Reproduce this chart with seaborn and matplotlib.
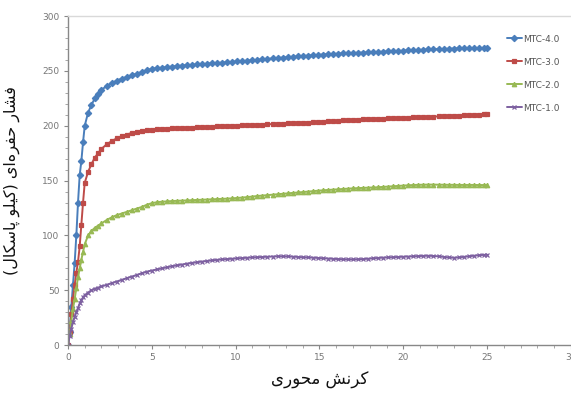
import matplotlib
matplotlib.use("Agg")
import matplotlib.pyplot as plt
import seaborn as sns
import pandas as pd

# ---------------- data ----------------
strain = [0, 0.1, 0.2, 0.3, 0.4, 0.5, 0.6, 0.7, 0.8, 0.9,
          1.0, 1.2, 1.4, 1.6, 1.8, 2.0, 2.3, 2.6, 2.9, 3.2,
          3.5, 3.8, 4.1, 4.4, 4.7, 5.0, 5.3, 5.6, 5.9, 6.2,
          6.5, 6.8, 7.1, 7.4, 7.7, 8.0, 8.3, 8.6, 8.9, 9.2,
          9.5, 9.8, 10.1, 10.4, 10.7, 11.0, 11.3, 11.6, 11.9, 12.2,
          12.5, 12.8, 13.1, 13.4, 13.7, 14.0, 14.3, 14.6, 14.9, 15.2,
          15.5, 15.8, 16.1, 16.4, 16.7, 17.0, 17.3, 17.6, 17.9, 18.2,
          18.5, 18.8, 19.1, 19.4, 19.7, 20.0, 20.3, 20.6, 20.9, 21.2,
          21.5, 21.8, 22.1, 22.4, 22.7, 23.0, 23.3, 23.6, 23.9, 24.2,
          24.5, 24.8, 25.0]

mtc_40 = [0, 12, 35, 55, 75, 100, 130, 155, 168, 185,
          200, 212, 219, 225, 229, 233, 236, 239, 241, 243,
          244.5, 246, 247.5, 249, 250.5, 252, 252.5, 253, 253.5, 254,
          254.5, 255, 255.3, 255.6, 256, 256.3, 256.6, 257, 257.3, 257.6,
          258, 258.3, 258.7, 259, 259.4, 259.8, 260.2, 260.6, 261, 261.4,
          261.8, 262.2, 262.6, 263, 263.3, 263.6, 264, 264.3, 264.7, 265,
          265.3, 265.5, 265.8, 266, 266.2, 266.4, 266.6, 266.8, 267, 267.2,
          267.4, 267.6, 267.8, 268, 268.2, 268.5, 268.8, 269, 269.2, 269.4,
          269.6, 269.8, 270, 270.1, 270.3, 270.5, 270.6, 270.7, 270.8, 270.9,
          271, 271, 271.2]

mtc_30 = [0, 12, 28, 42, 55, 66, 76, 90, 110, 130,
          148, 158, 165, 171, 175, 179, 183, 186, 188.5, 190.5,
          192, 193.5, 194.5, 195.5, 196, 196.5, 197, 197.2, 197.4, 197.6,
          197.8, 198, 198.2, 198.4, 198.6, 198.8, 199, 199.2, 199.4, 199.6,
          199.8, 200, 200.2, 200.4, 200.6, 200.8, 201, 201.2, 201.4, 201.6,
          201.8, 202, 202.2, 202.4, 202.6, 202.8, 203, 203.3, 203.5, 203.8,
          204, 204.3, 204.6, 205, 205.3, 205.5, 205.7, 205.9, 206, 206.2,
          206.4, 206.6, 206.8, 207, 207.2, 207.3, 207.5, 207.7, 207.8, 208,
          208.2, 208.4, 208.6, 208.8, 209, 209.2, 209.4, 209.6, 209.8, 210,
          210.2, 210.5, 211]

mtc_20 = [0, 10, 22, 33, 42, 52, 62, 70, 78, 85,
          92, 100, 104, 107, 109, 111, 114, 116.5, 118.5, 120,
          121.5, 123, 124.5, 126, 128, 129.5, 130.3, 130.8, 131.1, 131.4,
          131.6, 131.8, 132, 132.2, 132.4, 132.6, 132.8, 133, 133.2, 133.4,
          133.6, 133.9, 134.2, 134.6, 135, 135.5, 136, 136.4, 136.8, 137.2,
          137.6, 138, 138.4, 138.8, 139.2, 139.6, 140, 140.4, 140.8, 141.2,
          141.5, 141.8, 142.1, 142.4, 142.7, 143, 143.2, 143.4, 143.6, 143.8,
          144, 144.3, 144.6, 144.9, 145.2, 145.5, 145.8, 146, 146.2, 146.3,
          146.4, 146.4, 146.3, 146.3, 146.2, 146.2, 146.1, 146.1, 146.1, 146.1,
          146, 146, 146]

mtc_10 = [0, 8, 15, 21, 26, 30, 34, 38, 41, 43.5,
          45.5, 48, 50, 51.5, 52.5, 53.5, 55, 56.5, 58, 59.5,
          61, 62.5, 64, 65.5, 67, 68, 69, 70, 71, 72,
          72.8, 73.5, 74.3, 75, 75.6, 76.2, 76.8, 77.3, 77.8, 78.2,
          78.5, 78.8, 79.1, 79.4, 79.7, 80, 80.2, 80.4, 80.6, 80.8,
          81, 81, 80.9, 80.7, 80.4, 80.2, 80, 79.8, 79.5, 79.2,
          79, 78.7, 78.5, 78.3, 78.2, 78.2, 78.3, 78.5, 78.8, 79.2,
          79.5, 79.8, 80, 80.2, 80.4, 80.6, 80.8, 81, 81.2, 81.4,
          81.5, 81.3, 81, 80.5, 80, 79.7, 80, 80.5, 81, 81.5,
          82, 82.3, 82.5]

series_names = ["MTC-4.0", "MTC-3.0", "MTC-2.0", "MTC-1.0"]
series_values = [mtc_40, mtc_30, mtc_20, mtc_10]
colors = ["#4a7ebb", "#be4b48", "#98b954", "#7d60a0"]
markers = ["D", "s", "^", "x"]

y_ticks = [0, 50, 100, 150, 200, 250, 300]
x_ticks = [0, 5, 10, 15, 20, 25, 30]

y_label = "فشار حفره‌ای (کیلو پاسکال)"
x_label = "کرنش محوری"


# ------------- minimal Arabic/Persian shaping (matplotlib has no CTL) -------------
_FORMS = {
    "\u0627": ("\uFE8D", "\uFE8E"),
    "\u0631": ("\uFEAD", "\uFEAE"),
    "\u0648": ("\uFEED", "\uFEEE"),
    "\u0641": ("\uFED1", "\uFED2", "\uFED3", "\uFED4"),
    "\u0634": ("\uFEB5", "\uFEB6", "\uFEB7", "\uFEB8"),
    "\u062D": ("\uFEA1", "\uFEA2", "\uFEA3", "\uFEA4"),
    "\u0647": ("\uFEE9", "\uFEEA", "\uFEEB", "\uFEEC"),
    "\u06CC": ("\uFBFC", "\uFBFD", "\uFBFE", "\uFBFF"),
    "\u06A9": ("\uFB8E", "\uFB8F", "\uFB90", "\uFB91"),
    "\u0644": ("\uFEDD", "\uFEDE", "\uFEDF", "\uFEE0"),
    "\u067E": ("\uFB56", "\uFB57", "\uFB58", "\uFB59"),
    "\u0633": ("\uFEB1", "\uFEB2", "\uFEB3", "\uFEB4"),
    "\u0645": ("\uFEE1", "\uFEE2", "\uFEE3", "\uFEE4"),
    "\u0646": ("\uFEE5", "\uFEE6", "\uFEE7", "\uFEE8"),
}
_MIRROR = {"(": ")", ")": "("}


def shape(text):
    out = []
    n = len(text)
    for i, ch in enumerate(text):
        if ch not in _FORMS:
            if ch == "\u200c":
                continue
            out.append(_MIRROR.get(ch, ch))
            continue
        f = _FORMS[ch]
        prev = text[i - 1] if i > 0 else ""
        nxt = text[i + 1] if i + 1 < n else ""
        jp = prev in _FORMS and len(_FORMS[prev]) == 4
        jn = len(f) == 4 and nxt in _FORMS
        if jp and jn:
            out.append(f[3])
        elif jp:
            out.append(f[1])
        elif jn:
            out.append(f[2])
        else:
            out.append(f[0])
    return "".join(reversed(out))


# ---------------- plot ----------------
sns.set_style("ticks")
plt.rcParams["font.family"] = ["DejaVu Sans"]

fig = plt.figure(figsize=(5.71, 3.94), dpi=100)
ax = fig.add_axes([0.119, 0.124, 0.881, 0.835])

for name, vals, c, m in zip(series_names, series_values, colors, markers):
    df = pd.DataFrame({"strain": strain, "pressure": vals})
    sns.lineplot(data=df, x="strain", y="pressure", ax=ax, color=c, marker=m,
                 markersize=3.2 if m != "x" else 3.5, markeredgecolor=c,
                 markeredgewidth=0.9, linewidth=1.4, label=name)

ax.set_xlim(0, 30)
ax.set_ylim(0, 300)
ax.set_xticks(x_ticks)
ax.set_yticks(y_ticks)
ax.set_xticks(range(0, 31), minor=True)
ax.set_yticks(range(0, 301, 10), minor=True)
ax.tick_params(axis="both", which="major", labelsize=6.5, labelcolor="#777777",
               color="#888888", length=3, width=0.8, direction="out", pad=3)
ax.tick_params(axis="both", which="minor", color="#999999", length=2, width=0.6,
               direction="out")

for s in ["left", "bottom"]:
    ax.spines[s].set_color("#888888")
    ax.spines[s].set_linewidth(1.0)
ax.spines["top"].set_color("#d9d9d9")
ax.spines["top"].set_linewidth(1.0)
ax.spines["right"].set_visible(False)

ax.set_xlabel(shape(x_label), fontsize=12, labelpad=6, color="#111111")
ax.set_ylabel(shape(y_label), fontsize=11.5, labelpad=16, color="#111111")

leg = ax.legend(loc="upper left", bbox_to_anchor=(0.865, 0.955), frameon=False,
                fontsize=6.5, labelspacing=1.55, handlelength=1.7,
                handletextpad=0.15, borderaxespad=0)
for t in leg.get_texts():
    t.set_color("#555555")

fig.savefig("out.png", dpi=100, facecolor="white")
